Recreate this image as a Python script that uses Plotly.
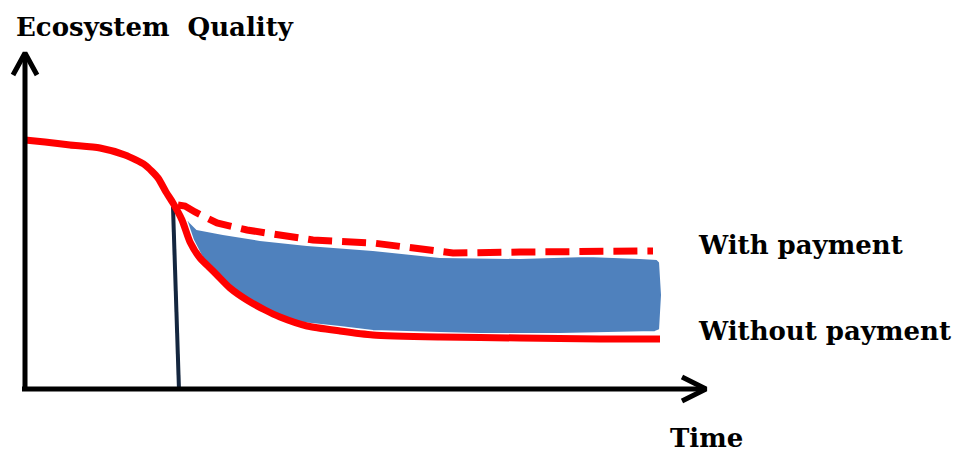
import plotly.graph_objects as go

# Values (time units on x, quality units on y)
time_without = [25, 45, 70, 100, 125, 145, 158, 166, 173, 182, 190, 200, 210, 217, 230, 247, 265, 280, 307, 340, 373, 440, 520, 600, 660]
quality_without = [313, 311, 308, 305, 298, 288, 275, 261, 250, 233, 211, 195, 185, 178, 165, 153, 143, 136, 127, 122, 118, 116, 115, 114, 114]

time_with = [178, 185, 195, 217, 247, 283, 313, 373, 425, 453, 520, 600, 653]
quality_with = [248, 247, 241, 230, 223, 217, 213, 210, 203, 200, 201, 202, 202]

gap_time = [183, 190, 197, 223, 260, 307, 373, 440, 520, 587, 640, 657, 660, 662, 660,
            655, 560, 480, 440, 373, 340, 293, 260, 240, 223, 207, 193, 187, 183]
gap_quality = [240, 231, 224, 219, 213, 208, 203, 196, 195, 197, 195, 194, 191, 158, 123,
               121, 119, 119, 120, 122, 126, 131, 143, 156, 171, 186, 213, 231, 240]

payment_time = [173, 179]
payment_quality = [246, 63]

axis_origin = (25, 65)
y_axis_top = 400
x_axis_end = 706

labels = {"title": "Ecosystem\u00a0 Quality", "with": "With payment",
          "without": "Without payment", "time": "Time"}

W, H = 962, 453
fig = go.Figure()

fig.add_trace(go.Scatter(x=gap_time, y=gap_quality, mode="lines", fill="toself",
                         fillcolor="#4F81BD", line=dict(color="white", width=2),
                         hoverinfo="skip"))
fig.add_trace(go.Scatter(x=payment_time, y=payment_quality, mode="lines",
                         line=dict(color="#14263F", width=4), hoverinfo="skip"))
fig.add_trace(go.Scatter(x=time_with, y=quality_with, mode="lines",
                         line=dict(color="#FF0000", width=7, dash="24px,10px"),
                         hoverinfo="skip"))
fig.add_trace(go.Scatter(x=time_without, y=quality_without, mode="lines",
                         line=dict(color="#FF0000", width=7, shape="spline", smoothing=0.6),
                         hoverinfo="skip"))

ox, oy = axis_origin
# axes with chevron heads
fig.add_trace(go.Scatter(x=[ox, ox, None, ox - 12, ox, ox + 12],
                         y=[oy - 2, y_axis_top, None, y_axis_top - 22, y_axis_top, y_axis_top - 22],
                         mode="lines", line=dict(color="black", width=5), hoverinfo="skip"))
fig.add_trace(go.Scatter(x=[ox - 3, x_axis_end, None, x_axis_end - 24, x_axis_end, x_axis_end - 24],
                         y=[oy - 1, oy - 1, None, oy + 11, oy - 1, oy - 13],
                         mode="lines", line=dict(color="black", width=5), hoverinfo="skip"))

font = dict(family="DejaVu Serif", color="black")
def label(text, x, y, size):
    fig.add_annotation(x=x, y=y, text="<b>" + text + "</b>", showarrow=False,
                       xanchor="left", yanchor="middle",
                       font=dict(size=size, **font))

label(labels["title"], 14, 426, 26)
label(labels["with"], 696, 208, 26)
label(labels["without"], 696, 122, 26)
label(labels["time"], 668, 15, 26)

fig.update_layout(width=W, height=H, margin=dict(l=0, r=0, t=0, b=0),
                  plot_bgcolor="white", paper_bgcolor="white", showlegend=False,
                  xaxis=dict(range=[0, W], visible=False, fixedrange=True),
                  yaxis=dict(range=[0, H], visible=False, fixedrange=True))
fig.write_html("out.html", config={"displayModeBar": False},
               post_script="document.body.style.margin='0';")
